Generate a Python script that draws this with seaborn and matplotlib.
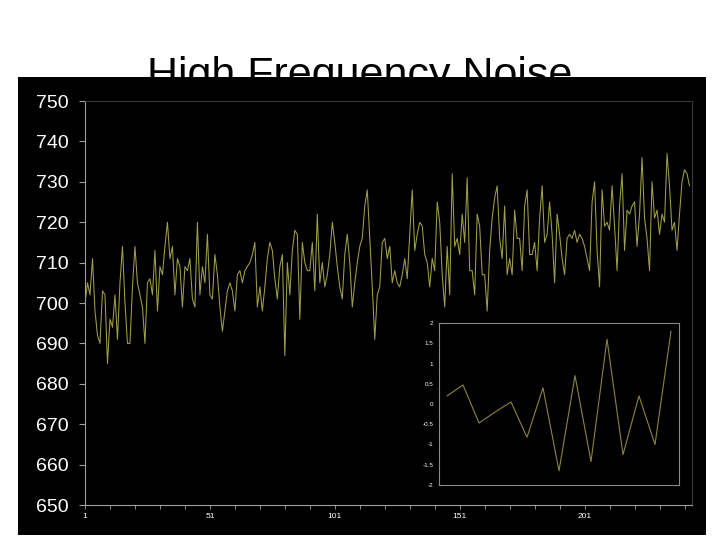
import numpy as np
import pandas as pd
import matplotlib.pyplot as plt
import seaborn as sns
from matplotlib.patches import Rectangle

# main series (points 1..243)
noise_values = [
    700, 705, 702, 711, 698, 692, 690, 703, 702, 685,
    696, 694, 702, 691, 705, 714, 700, 690, 690, 704,
    714, 705, 702, 699, 690, 705, 706, 702, 713, 698,
    709, 707, 714, 720, 711, 714, 702, 711, 709, 699,
    709, 708, 711, 701, 699, 720, 702, 709, 705, 717,
    702, 701, 712, 707, 699, 693, 698, 703, 705, 703,
    698, 707, 708, 705, 708, 709, 710, 712, 715, 699,
    704, 698, 704, 711, 715, 713, 706, 701, 709, 712,
    687, 710, 702, 713, 718, 717, 696, 715, 710, 708,
    708, 715, 703, 722, 705, 710, 704, 707, 712, 720,
    715, 709, 704, 701, 712, 717, 710, 699, 705, 710,
    714, 716, 724, 728, 716, 704, 691, 702, 704, 715,
    716, 711, 714, 705, 708, 705, 704, 707, 711, 706,
    717, 728, 713, 717, 720, 719, 712, 710, 704, 711,
    708, 725, 720, 707, 699, 714, 702, 732, 714, 716,
    712, 722, 715, 731, 708, 708, 702, 722, 719, 707,
    707, 698, 713, 721, 726, 729, 716, 711, 724, 707,
    711, 707, 723, 716, 716, 708, 724, 728, 712, 712,
    715, 708, 721, 729, 715, 717, 725, 717, 705, 722,
    717, 711, 707, 716, 717, 716, 718, 715, 717, 716,
    714, 711, 708, 725, 730, 713, 704, 728, 719, 720,
    718, 729, 719, 708, 724, 732, 713, 723, 722, 724,
    725, 714, 722, 736, 721, 716, 708, 730, 721, 723,
    717, 722, 720, 737, 729, 718, 720, 713, 722, 730,
    733, 732, 729,
]
x_labels = [1, 51, 101, 151, 201]
y_ticks = [650, 660, 670, 680, 690, 700, 710, 720, 730, 740, 750]

# inset series
inset_values = [0.2, 0.47, -0.47, -0.2, 0.05, -0.82, 0.4, -1.65,
                0.7, -1.42, 1.6, -1.25, 0.2, -1.0, 1.8]
inset_ticks = [-2, -1.5, -1, -0.5, 0, 0.5, 1, 1.5, 2]

sns.set_theme(style='dark')
plt.rcParams['font.family'] = ['Liberation Sans', 'DejaVu Sans']

df = pd.DataFrame({'t': np.arange(1, len(noise_values) + 1), 'v': noise_values})
df_in = pd.DataFrame({'t': np.arange(len(inset_values)), 'v': inset_values})

fig = plt.figure(figsize=(7.2, 5.4), dpi=100, facecolor='white')

# title sits behind the black panel
fig.text(0.5, 1 - 87 / 540, 'High Frequency Noise', ha='center', va='baseline',
         fontsize=31, color='black', zorder=1)
fig.add_artist(Rectangle((18 / 720, 1 - 535 / 540), 688 / 720, 458 / 540,
                         transform=fig.transFigure, facecolor='black',
                         edgecolor='none', zorder=2))

ax = fig.add_axes([85 / 720, 1 - 505 / 540, 607 / 720, 404 / 540])
ax.set_zorder(3)
ax.set_facecolor('black')
sns.lineplot(data=df, x='t', y='v', ax=ax, color='#a19e48', linewidth=0.75)
ax.set_xlim(1, 244)
ax.set_ylim(650, 750)
ax.set_yticks(y_ticks)
ax.set_yticklabels([str(v) for v in y_ticks], fontsize=14, color='white')
ax.set_xticks(x_labels)
ax.set_xticklabels([str(v) for v in x_labels], fontsize=6, color='white')
ax.set_xticks(np.arange(1, 244, 10), minor=True)
ax.tick_params(axis='y', direction='out', length=4, width=0.8, color='#a0a0a0',
               pad=8, left=True)
ax.tick_params(axis='x', which='both', direction='out', length=3, width=0.6,
               color='#a0a0a0', pad=3, bottom=True)
ax.set_xlabel('')
ax.set_ylabel('')
ax.grid(False)
for side in ['left', 'bottom']:
    ax.spines[side].set_color('#a0a0a0')
    ax.spines[side].set_linewidth(0.8)
    ax.spines[side].set_visible(True)
for side in ['top', 'right']:
    ax.spines[side].set_color('#383838')
    ax.spines[side].set_linewidth(0.8)
    ax.spines[side].set_visible(True)

# inset chart
ax2 = fig.add_axes([439 / 720, 1 - 485 / 540, 240 / 720, 162 / 540])
ax2.set_zorder(4)
ax2.set_facecolor('black')
sns.lineplot(data=df_in, x='t', y='v', ax=ax2, color='#8a853c', linewidth=0.8)
ax2.set_xlim(-0.5, 14.5)
ax2.set_ylim(-2, 2)
ax2.set_xticks([])
ax2.set_yticks(inset_ticks)
ax2.set_yticklabels(['%g' % v for v in inset_ticks], fontsize=4.5, color='white')
ax2.tick_params(axis='y', length=0, pad=4)
ax2.set_xlabel('')
ax2.set_ylabel('')
ax2.grid(False)
for side in ax2.spines:
    ax2.spines[side].set_color('#8a8a8a')
    ax2.spines[side].set_linewidth(0.8)
    ax2.spines[side].set_visible(True)

fig.savefig('out.png', dpi=100, facecolor='white')
